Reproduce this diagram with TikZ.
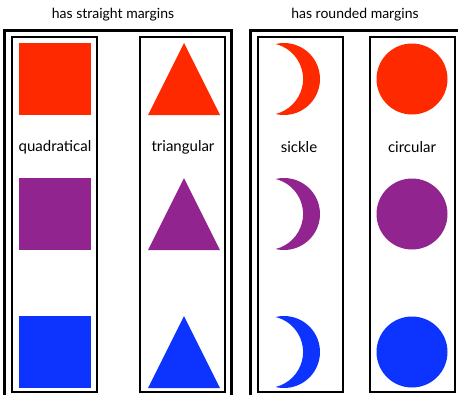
\documentclass[tikz,border=0pt]{standalone}
\usepackage{fontspec}
\setmainfont{Lato}
\definecolor{shred}{RGB}{255,41,0}
\definecolor{shpurple}{RGB}{146,36,143}
\definecolor{shblue}{RGB}{13,51,255}
\usetikzlibrary{positioning}

\begin{document}
\begin{tikzpicture}[x=1pt, y=-1pt,
    groupbox/.style={draw, line width=3pt},
    classbox/.style={draw, line width=2pt, minimum width=85pt, minimum height=355.5pt, inner sep=0pt},
    grouptitle/.style={font=\fontsize{14}{16}\selectfont},
    classlabel/.style={font=\fontsize{15}{17}\selectfont}
  ]
    \useasboundingbox (0,0) rectangle (458,394);
    \clip (0,0) rectangle (458,394);

    % Group boxes
    \draw[groupbox] (4.5,30) rectangle (231.5,410);
    \draw[groupbox] (250,30) rectangle (470,410);

    % Group titles
    \node[grouptitle] (straight) at (113,15) {has straight margins};
    \node[grouptitle] (rounded) at (355,15) {has rounded margins};

    % Class boxes
    \node[classbox] (quadbox) at (54,214.25) {};
    \node[classbox] (tribox) at (182.5,214.25) {};
    \node[classbox] (sicklebox) at (300,214.25) {};
    \node[classbox] (circbox) at (412,214.25) {};

    % Class labels
    \node[classlabel] (quad) at (55,147) {quadratical};
    \node[classlabel] (tri) at (183,147) {triangular};
    \node[classlabel] (sickle) at (299,147) {sickle};
    \node[classlabel] (circ) at (412,147) {circular};

    % Shapes, one row per colour
    \foreach \col/\y in {shred/79, shpurple/214, shblue/352}{
      \fill[\col] (19,\y-36) rectangle ++(72,72);
      \fill[\col] (148,\y+36) -- (184,\y-36) -- (220,\y+36) -- cycle;
      \fill[\col] (284,\y) ++(103.6:36) arc[start angle=103.6, end angle=-103.6, radius=36]
                  arc[start angle=-76.4, end angle=76.4, radius=36] -- cycle;
      \fill[\col] (412,\y) circle[radius=35.5];
    }
\end{tikzpicture}
\end{document}
